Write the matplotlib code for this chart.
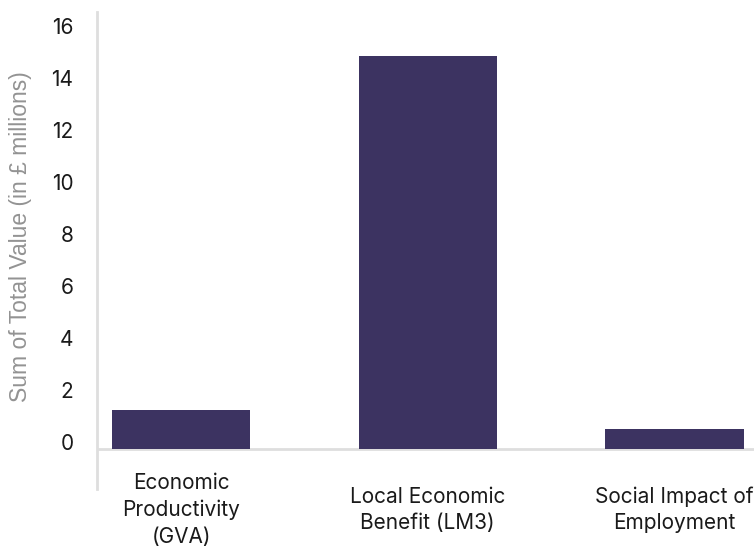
import matplotlib
matplotlib.use("Agg")
import matplotlib.pyplot as plt
import matplotlib.transforms as mtransforms

# Total value per impact category, in £ millions
categories = ["Economic\nProductivity\n(GVA)", "Local Economic\nBenefit (LM3)", "Social Impact of\nEmployment"]
values = [1.5, 15.1, 0.77]
yticks = [0, 2, 4, 6, 8, 10, 12, 14, 16]

bar_color = "#3c3361"
axis_color = "#dedede"

plt.rcParams["font.family"] = ["Inter", "DejaVu Sans"]

fig = plt.figure(figsize=(7.54, 5.46), dpi=100)
ax = fig.add_axes([97 / 754, 57 / 546, 1 - 97 / 754, (489 - 12) / 546])

x = list(range(len(categories)))
ax.bar(x, values, width=0.56, color=bar_color, zorder=2)

# baseline at zero, left axis runs a little below it
ax.axhline(0, color=axis_color, linewidth=2, zorder=1)
ax.set_ylim(-40 / 26, (449 - 12) / 26)
ax.set_xlim(-0.3404, 2.322)

for side in ["top", "right", "bottom"]:
    ax.spines[side].set_visible(False)
ax.spines["left"].set_color(axis_color)
ax.spines["left"].set_linewidth(2)

ax.set_yticks(yticks)
ax.set_yticklabels([str(t) for t in yticks], fontsize=15, color="#1a1a1a")
ax.tick_params(axis="y", length=0, pad=17)
shift = mtransforms.ScaledTranslation(0, 7 / 100, fig.dpi_scale_trans)
for lbl in ax.get_yticklabels():
    lbl.set_transform(lbl.get_transform() + shift)

ax.set_xticks(x)
ax.set_xticklabels(categories, fontsize=15, color="#1a1a1a", va="center", linespacing=1.4)
ax.tick_params(axis="x", length=0, pad=15)

fig.text(21 / 754, 1 - 237 / 546, "Sum of Total Value (in £ millions)", rotation=90,
         ha="center", va="center", fontsize=16.5, color="#939393",
         family=["Liberation Sans", "DejaVu Sans"])

fig.savefig("out.png", dpi=100)
